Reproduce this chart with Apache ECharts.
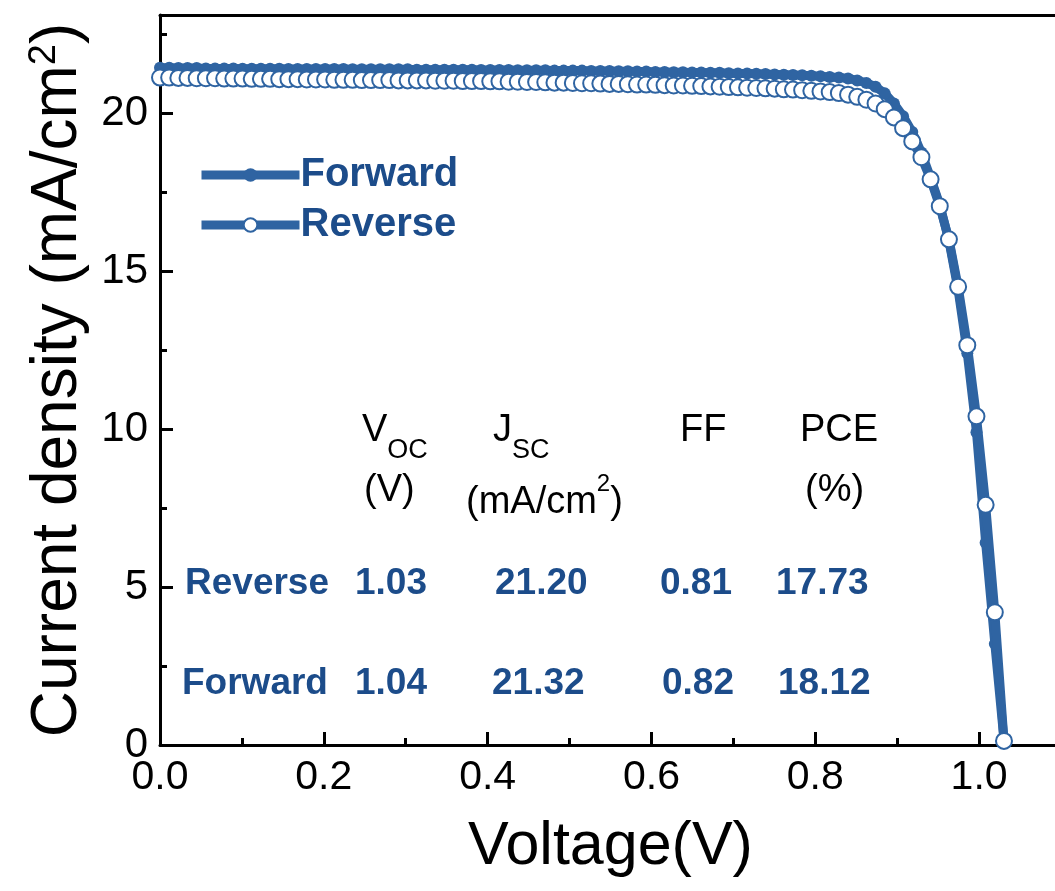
<!DOCTYPE html>
<html>
<head>
<meta charset="utf-8">
<script src="https://cdn.jsdelivr.net/npm/echarts@6/dist/echarts.min.js"></script>
<style>
html,body{margin:0;padding:0;background:#fff;}
#chart{width:1055px;height:891px;}
</style>
</head>
<body>
<div id="chart"></div>
<script>
// Voltage sweep points (V)
var voltage = [0, 0.0112, 0.0224, 0.0336, 0.0448, 0.056, 0.0672, 0.0784, 0.0896, 0.1008,
  0.112, 0.1232, 0.1344, 0.1456, 0.1568, 0.168, 0.1792, 0.1904, 0.2016, 0.2128,
  0.224, 0.2352, 0.2464, 0.2576, 0.2688, 0.28, 0.2912, 0.3024, 0.3136, 0.3248,
  0.336, 0.3472, 0.3584, 0.3696, 0.3808, 0.392, 0.4032, 0.4144, 0.4256, 0.4368,
  0.448, 0.4592, 0.4704, 0.4816, 0.4928, 0.504, 0.5152, 0.5264, 0.5376, 0.5488,
  0.56, 0.5712, 0.5824, 0.5936, 0.6048, 0.616, 0.6272, 0.6384, 0.6496, 0.6608,
  0.672, 0.6832, 0.6944, 0.7056, 0.7168, 0.728, 0.7392, 0.7504, 0.7616, 0.7728,
  0.784, 0.7952, 0.8064, 0.8176, 0.8288, 0.84, 0.8512, 0.8624, 0.8736, 0.8848,
  0.896, 0.9072, 0.9184, 0.9296, 0.9408, 0.952, 0.9632, 0.9744, 0.9856, 0.9968,
  1.008, 1.0192, 1.0304];

// Forward scan current density (mA/cm2)
var forwardJ = [21.43, 21.43, 21.42, 21.42, 21.42, 21.41, 21.41, 21.41, 21.41, 21.40,
  21.40, 21.40, 21.40, 21.40, 21.39, 21.39, 21.39, 21.39, 21.39, 21.39,
  21.39, 21.38, 21.38, 21.38, 21.38, 21.38, 21.38, 21.38, 21.37, 21.37,
  21.37, 21.37, 21.37, 21.37, 21.37, 21.36, 21.36, 21.36, 21.36, 21.35,
  21.35, 21.35, 21.35, 21.34, 21.34, 21.34, 21.34, 21.33, 21.33, 21.33,
  21.32, 21.32, 21.31, 21.31, 21.30, 21.30, 21.29, 21.29, 21.28, 21.28,
  21.27, 21.27, 21.26, 21.25, 21.25, 21.24, 21.23, 21.22, 21.21, 21.20,
  21.19, 21.18, 21.16, 21.14, 21.12, 21.09, 21.03, 20.95, 20.83, 20.62,
  20.30, 19.90, 19.40, 18.75, 17.95, 17.10, 15.95, 14.40, 12.40, 9.90,
  6.40, 3.20, 0.15];

// Reverse scan current density (mA/cm2)
var reverseJ = [21.12, 21.12, 21.11, 21.11, 21.10, 21.10, 21.10, 21.09, 21.09, 21.09,
  21.08, 21.08, 21.08, 21.07, 21.07, 21.07, 21.06, 21.06, 21.06, 21.05,
  21.05, 21.05, 21.04, 21.04, 21.04, 21.04, 21.03, 21.03, 21.03, 21.03,
  21.02, 21.02, 21.02, 21.01, 21.01, 21.01, 21.00, 21.00, 20.99, 20.99,
  20.98, 20.98, 20.97, 20.96, 20.96, 20.95, 20.94, 20.94, 20.93, 20.92,
  20.92, 20.91, 20.90, 20.90, 20.89, 20.88, 20.87, 20.87, 20.86, 20.85,
  20.84, 20.83, 20.82, 20.81, 20.80, 20.79, 20.78, 20.77, 20.75, 20.74,
  20.72, 20.70, 20.68, 20.66, 20.63, 20.58, 20.51, 20.42, 20.30, 20.12,
  19.86, 19.52, 19.10, 18.60, 17.90, 17.05, 16.00, 14.50, 12.65, 10.40,
  7.60, 4.20, 0.13];

// Table of photovoltaic parameters
var tableHeaders = ['V{sub|OC}', 'J{sub|SC}', 'FF', 'PCE'];
var tableUnits = ['(V)', '(mA/cm{sup|2})', '', '(%)'];
var rowNames = ['Reverse', 'Forward'];
var voc = ['1.03', '1.04'];
var jsc = ['21.20', '21.32'];
var ff = ['0.81', '0.82'];
var pce = ['17.73', '18.12'];

var seriesNames = ['Forward', 'Reverse'];
var xTicks = ['0.0', '0.2', '0.4', '0.6', '0.8', '1.0'];

function pairs(xs, ys) {
  var out = [];
  for (var i = 0; i < xs.length; i++) out.push([xs[i], ys[i]]);
  return out;
}

var LINE = '#2f64a2';
var TXT = '#1c4c8a';
var SANS = "'Liberation Sans', Arial, sans-serif";

var chart = echarts.init(document.getElementById('chart'), null, {renderer: 'canvas'});

// table graphic texts
var headX = [362, 493, 680, 800];
var unitX = [364, 466, 680, 805];
var colX = [355, 495, 660, 776];
var colX2 = [355, 492, 662, 778];
var graphics = [];
var headRich = {
  sub: {fontSize: 27, fontFamily: SANS, fill: '#000', verticalAlign: 'bottom', lineHeight: 26, padding: [0,0,-14,0]},
  sup: {fontSize: 24, fontFamily: SANS, fill: '#000', verticalAlign: 'top', lineHeight: 24, padding: [-12,0,0,0]}
};
for (var c = 0; c < 4; c++) {
  graphics.push({type: 'text', left: headX[c], top: 412, z: 10,
    style: {text: tableHeaders[c], fontSize: 38, fontFamily: SANS, fill: '#000', rich: headRich}});
  if (tableUnits[c]) {
    graphics.push({type: 'text', left: unitX[c], top: 472, z: 10,
      style: {text: tableUnits[c], fontSize: 38, fontFamily: SANS, fill: '#000', rich: headRich}});
  }
}
var rowsTop = [565, 665];
var cols = [voc, jsc, ff, pce];
for (var r = 0; r < 2; r++) {
  graphics.push({type: 'text', left: r === 0 ? 185 : 182, top: rowsTop[r], z: 10,
    style: {text: rowNames[r], fontSize: 37, fontWeight: 'bold', fontFamily: SANS, fill: TXT}});
  for (var k = 0; k < 4; k++) {
    graphics.push({type: 'text', left: (r === 0 ? colX : colX2)[k], top: rowsTop[r], z: 10,
      style: {text: cols[k][r], fontSize: 37, fontWeight: 'bold', fontFamily: SANS, fill: TXT}});
  }
}

var option = {
  animation: false,
  backgroundColor: '#fff',
  grid: {left: 160, right: -6, top: 15, bottom: 146, containLabel: false, outerBoundsMode: 'none'},
  legend: {
    orient: 'vertical', left: 192, top: 150, itemGap: 10,
    itemWidth: 98, itemHeight: 17,
    lineStyle: {width: 9, color: LINE},
    textStyle: {fontSize: 40, fontWeight: 'bold', color: TXT, fontFamily: SANS, padding: [0,0,0,-4]},
    data: seriesNames
  },
  xAxis: [{
    type: 'value', min: 0, max: 1.1, interval: 0.2,
    name: 'Voltage(V)', nameLocation: 'middle', nameGap: 72,
    nameTextStyle: {fontSize: 61, fontFamily: SANS, color: '#000'},
    axisLine: {show: true, lineStyle: {color: '#000', width: 3}},
    axisTick: {show: true, inside: true, length: 13, lineStyle: {color: '#000', width: 3}},
    minorTick: {show: true, splitNumber: 2, length: 7, lineStyle: {color: '#000', width: 3}},
    splitLine: {show: false}, minorSplitLine: {show: false},
    axisLabel: {fontSize: 41, fontFamily: SANS, color: '#000', margin: 12, showMaxLabel: false,
      formatter: function (v) { var i = Math.round(v / 0.2); return Math.abs(v - i * 0.2) < 1e-6 ? xTicks[i] : ''; }}
  }, {
    type: 'value', position: 'top', min: 0, max: 1.1,
    axisLine: {show: true, onZero: false, lineStyle: {color: '#000', width: 3}},
    axisTick: {show: false}, axisLabel: {show: false}, splitLine: {show: false}
  }],
  yAxis: {
    type: 'value', min: 0, max: 23.1, interval: 5,
    name: 'Current density (mA/cm{sup|2})', nameLocation: 'middle', nameGap: 70, nameRotate: 90,
    nameTextStyle: {fontSize: 64, fontFamily: SANS, color: '#000',
      rich: {sup: {fontSize: 38, fontFamily: SANS, color: '#000', verticalAlign: 'top', padding: [0,0,26,0]}}},
    axisLine: {show: true, lineStyle: {color: '#000', width: 3}},
    axisTick: {show: true, inside: true, length: 13, lineStyle: {color: '#000', width: 3}},
    minorTick: {show: true, splitNumber: 2, length: 7, lineStyle: {color: '#000', width: 3}},
    splitLine: {show: false}, minorSplitLine: {show: false},
    axisLabel: {fontSize: 42, fontFamily: SANS, color: '#000', margin: 12, showMaxLabel: false}
  },
  series: [{
    name: 'Forward', type: 'line', data: pairs(voltage, forwardJ),
    symbol: 'circle', symbolSize: 12, showAllSymbol: true, clip: false,
    lineStyle: {color: LINE, width: 9},
    itemStyle: {color: LINE}, z: 2
  }, {
    name: 'Reverse', type: 'line', data: pairs(voltage, reverseJ),
    symbol: 'circle', symbolSize: 16, showAllSymbol: true, clip: false,
    lineStyle: {color: LINE, width: 9},
    itemStyle: {color: '#fff', borderColor: LINE, borderWidth: 2}, z: 3
  }],
  graphic: graphics
};
chart.setOption(option);
</script>
</body>
</html>
